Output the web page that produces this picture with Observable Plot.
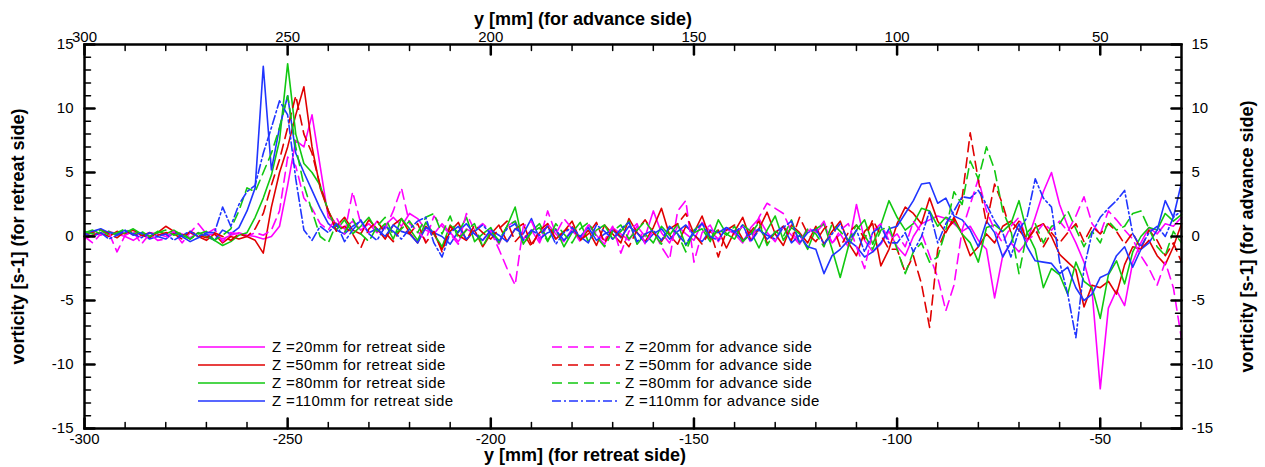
<!DOCTYPE html>
<html>
<head>
<meta charset="utf-8">
<script src="https://cdn.jsdelivr.net/npm/d3@7"></script>
<script src="https://cdn.jsdelivr.net/npm/@observablehq/plot@0.6"></script>
<style>
  html, body { margin: 0; padding: 0; background: #fff; }
  #wrap { position: relative; width: 1265px; height: 467px; }
</style>
</head>
<body>
<div id="wrap"></div>
<script>
// y position [mm] on the retreat side (advance-side position = -x)
const positions = [
  -300,-298,-296,-294,-292,-290,-288,-286,-284,-282,
  -280,-278,-276,-274,-272,-270,-268,-266,-264,-262,
  -260,-258,-256,-254,-252,-250,-248,-246,-244,-242,
  -240,-238,-236,-234,-232,-230,-228,-226,-224,-222,
  -220,-218,-216,-214,-212,-210,-208,-206,-204,-202,
  -200,-198,-196,-194,-192,-190,-188,-186,-184,-182,
  -180,-178,-176,-174,-172,-170,-168,-166,-164,-162,
  -160,-158,-156,-154,-152,-150,-148,-146,-144,-142,
  -140,-138,-136,-134,-132,-130,-128,-126,-124,-122,
  -120,-118,-116,-114,-112,-110,-108,-106,-104,-102,
  -100,-98,-96,-94,-92,-90,-88,-86,-84,-82,
  -80,-78,-76,-74,-72,-70,-68,-66,-64,-62,
  -60,-58,-56,-54,-52,-50,-48,-46,-44,-42,
  -40,-38,-36,-34,-32,-30
];
const z20Retreat = [0.2,0.3,0.1,0.4,0.2,0.0,-0.3,0.1,0.3,0.2,0.0,0.4,0.2,-0.1,0.3,0.1,0.2,-0.2,0.1,0.3,0.1,0.0,-0.2,0.0,0.8,4.0,7.5,7.0,9.5,5.5,1.5,1.0,0.6,1.2,0.5,1.0,0.3,0.9,1.5,0.8,1.8,1.4,0.5,0.2,1.0,0.3,-0.4,0.6,0.2,-0.3,0.4,-0.6,0.8,1.2,-0.2,0.5,-0.5,1.0,0.2,-0.4,0.6,-0.2,0.9,0.1,-0.6,0.7,0.2,-0.3,0.8,0.0,2.0,0.3,-0.5,0.8,0.2,-0.3,1.1,0.4,-0.2,0.6,0.2,-0.5,0.7,1.4,0.3,-0.4,0.8,0.1,-0.6,0.5,0.3,1.0,-0.5,0.2,-0.8,2.5,-0.3,-1.2,-0.6,0.4,-0.8,-1.5,0.0,1.0,1.3,1.6,1.4,1.0,0.4,0.8,-0.3,-1.0,-4.8,-1.5,-0.5,-1.2,-0.4,1.5,3.5,5.0,2.5,0.8,-0.5,-2.0,-4.3,-11.9,-5.6,-4.2,-5.4,-2.0,-0.5,0.7,0.2,1.0,0.8,1.5];
const z50Retreat = [-0.2,0.1,0.3,0.0,0.4,0.2,0.5,0.1,-0.1,0.3,0.8,0.4,0.1,0.3,0.0,-0.3,0.2,-0.5,0.0,-0.2,0.0,-0.3,-1.3,2.3,5.0,7.0,9.5,11.7,7.0,3.8,2.0,0.8,1.5,0.5,0.2,1.3,0.6,-0.2,0.9,1.4,0.3,-0.5,0.8,0.2,-1.0,0.4,1.1,-0.3,0.5,-0.8,0.2,0.9,-0.4,0.6,1.0,-0.6,0.3,0.8,-0.2,0.4,1.2,-0.3,0.5,-0.7,0.9,0.2,-0.5,1.4,0.3,-0.4,0.7,2.2,0.1,-0.6,0.8,0.3,1.6,-0.2,0.5,-0.9,0.4,1.5,-0.3,0.6,1.9,0.2,-0.7,0.9,0.3,-0.5,0.8,-0.6,0.4,1.2,-0.5,-1.5,0.4,1.0,-2.3,-1.0,1.0,2.3,1.8,1.0,3.0,1.2,0.3,1.5,0.2,-1.5,-0.8,0.2,-0.5,0.8,1.2,0.5,-0.3,0.7,1.0,0.0,-1.4,-2.0,-2.6,-5.5,-3.8,-4.0,-3.5,-4.5,-2.2,-0.8,-1.0,-0.3,-1.5,-2.2,-0.8,1.0];
const z80Retreat = [0.3,0.5,0.2,0.4,0.1,0.3,0.6,0.2,0.0,0.4,0.2,0.5,0.1,-0.2,0.3,0.0,-0.3,-0.7,-0.4,0.1,0.3,1.5,3.0,4.8,7.5,13.5,8.0,5.7,5.0,4.0,2.0,0.5,1.3,0.2,0.8,1.5,0.4,1.0,-0.2,1.4,0.6,-0.3,1.1,0.2,-0.8,0.9,0.3,1.5,-0.4,0.2,0.7,-0.5,0.8,2.3,-0.6,0.4,1.0,-0.3,0.6,-0.8,0.3,1.1,-0.4,0.5,0.9,-0.2,0.4,1.2,-0.6,0.2,-0.5,0.8,0.1,1.0,-0.7,0.3,0.6,-0.4,1.3,0.2,-0.2,0.9,0.4,-0.9,0.5,1.6,-0.3,0.7,0.2,-1.0,0.6,1.0,-1.0,-3.2,-0.8,0.5,1.3,-0.6,0.9,2.8,1.5,0.5,1.0,2.2,2.0,0.8,1.5,1.2,0.2,-0.5,-2.0,0.7,0.9,0.4,1.0,2.8,0.3,-1.0,-4.0,-2.5,-3.0,-4.5,-2.0,-3.5,-4.0,-6.4,-3.0,-1.9,-3.7,-1.2,0.0,0.7,0.5,1.8,1.2,1.7];
const z110Retreat = [0.2,0.4,0.6,0.3,0.2,0.5,0.1,0.3,-0.2,0.0,-0.2,0.3,0.0,-0.4,-0.1,0.2,-0.3,0.5,0.2,0.7,2.0,3.8,13.3,5.2,8.5,11.0,6.5,5.0,3.6,2.2,1.0,0.5,0.2,0.8,1.2,0.3,0.6,0.0,0.9,0.4,0.2,-0.5,0.7,0.3,0.0,-0.6,0.4,1.0,0.2,-0.3,0.5,0.1,-0.4,0.6,0.2,1.4,-0.2,0.3,0.5,-0.3,0.4,0.0,0.7,-0.3,0.2,0.5,-0.1,0.8,0.3,-0.5,0.2,0.6,-0.2,0.4,0.9,0.1,-0.4,0.5,0.3,0.7,0.4,-0.3,0.2,0.6,-0.2,0.3,0.8,-0.5,0.1,-0.8,-1.0,-2.9,-1.5,-1.0,-0.3,-0.8,-1.6,-1.2,-0.5,0.6,0.8,1.8,2.8,4.1,4.2,2.6,3.0,1.6,1.3,0.5,-0.8,1.2,0.3,-1.6,-0.5,1.0,-0.8,-1.9,-2.0,-2.1,-2.9,-2.4,-4.0,-5.0,-4.5,-3.2,-2.9,-1.5,-0.8,-2.4,-1.0,-0.5,0.5,2.8,1.5,4.2];
const z20Advance = [0.0,-0.5,0.2,0.3,-1.2,0.1,0.4,-0.6,0.2,-0.3,-0.2,0.4,-0.5,0.3,1.0,0.2,0.6,-0.4,0.3,0.2,0.0,0.3,0.1,0.5,2.0,6.2,5.5,3.0,2.2,1.0,0.5,1.5,0.2,3.5,1.0,0.3,1.2,0.6,2.0,3.8,1.0,0.4,-0.3,1.6,0.8,0.2,-0.6,1.8,0.5,1.0,0.4,-1.0,-2.5,-3.8,0.8,1.2,-0.3,2.0,0.2,1.4,0.6,-0.4,1.0,0.2,-0.3,0.8,-1.3,0.4,1.0,-0.6,0.5,-0.8,-1.8,2.0,2.8,-2.0,0.3,0.9,-0.4,0.6,0.2,0.8,-0.5,1.5,2.6,2.2,1.8,0.4,-0.5,0.7,0.3,1.2,-0.6,0.5,1.0,-0.8,-2.5,0.4,1.0,-0.3,0.2,-0.8,1.2,0.3,-1.5,-3.2,-5.8,-3.8,0.5,2.5,4.5,2.0,0.5,-0.5,0.8,1.5,-0.3,0.2,1.0,0.5,1.2,0.4,1.6,3.1,1.0,0.2,2.0,1.3,0.5,-0.2,-1.5,-2.5,-3.8,-2.0,-4.0,-8.0];
const z50Advance = [0.1,0.3,0.5,0.2,-0.1,0.4,0.2,0.0,0.3,0.1,0.3,0.2,-0.2,0.4,0.1,-0.1,0.3,0.0,-0.3,0.2,0.0,0.6,1.8,4.0,6.0,8.5,11.0,8.0,6.5,4.0,2.0,0.4,0.8,0.2,-0.9,0.6,1.2,0.3,-0.4,0.7,0.2,1.0,-0.5,0.4,-1.2,0.8,0.1,-0.3,0.9,0.3,-0.2,0.6,1.2,-0.4,0.3,-0.8,0.5,1.0,-0.2,0.4,0.8,-0.3,0.2,1.1,-0.5,0.6,0.0,-0.8,0.5,1.3,0.3,-0.4,0.6,1.0,1.8,0.2,-0.6,0.4,-1.6,0.5,0.9,-0.2,0.4,1.2,-0.5,0.3,0.8,-0.3,1.5,0.2,-0.4,0.6,1.1,-0.8,0.3,0.9,-0.2,1.3,0.1,-1.0,-1.0,-2.8,-1.5,-3.7,-7.1,-1.0,0.5,1.2,3.0,8.1,4.4,1.0,4.1,2.5,0.3,1.2,-0.3,0.6,-0.8,0.3,-0.5,0.3,1.0,-0.4,0.8,0.2,1.0,0.4,-0.6,0.3,-1.0,0.5,-0.3,-1.5,-0.5,-2.0];
const z80Advance = [0.4,0.2,0.5,0.1,0.3,0.6,0.2,0.4,0.0,0.3,0.5,0.1,0.3,-0.2,0.2,0.4,-0.3,0.1,0.6,2.0,3.8,3.5,5.0,6.5,8.5,11.0,7.0,4.0,2.0,0.0,-0.5,1.0,0.3,1.4,0.2,-0.4,0.8,1.5,0.1,0.6,1.2,0.3,1.5,1.8,0.2,1.6,-0.2,0.5,1.0,-0.8,0.4,-0.3,0.8,1.2,-0.6,0.3,0.7,-0.4,1.0,0.2,-0.5,0.6,1.1,0.0,-0.8,0.4,0.9,-0.2,0.5,1.2,0.3,-0.6,0.7,0.2,-1.2,0.5,1.0,-0.3,0.6,0.1,0.8,-0.4,0.2,1.1,-0.7,0.4,0.0,1.3,-0.5,0.6,0.2,-0.8,1.0,0.4,-0.3,0.9,0.1,-1.0,0.5,0.8,-1.0,-2.9,-1.2,-0.5,-2.0,-1.6,0.5,3.5,2.5,5.9,4.5,7.0,5.2,2.0,0.5,-2.9,0.3,1.0,-0.5,0.8,1.0,2.0,0.6,-0.8,0.4,-0.5,1.2,0.5,0.8,1.8,2.0,0.6,-0.8,-1.5,0.4,-0.5];
const z110Advance = [0.2,0.0,0.3,-0.2,0.1,0.4,0.2,-0.1,0.3,0.0,0.2,-0.3,0.1,0.4,0.0,0.3,0.3,2.3,0.8,2.5,3.5,4.0,6.5,8.5,10.6,9.5,4.5,0.5,-0.3,0.8,0.3,1.0,-0.4,0.5,1.3,0.2,-0.3,0.8,0.4,-0.2,0.6,1.2,1.5,-0.5,-1.6,0.3,0.8,-0.2,0.4,0.9,0.2,-0.4,0.6,1.0,-0.3,0.5,0.1,0.8,-0.6,0.3,0.7,0.0,-0.5,0.9,0.4,-0.2,0.6,1.1,-0.4,0.2,0.5,-0.3,0.8,0.2,-0.6,0.4,1.0,0.0,-0.3,0.7,0.3,0.9,-0.4,0.5,0.1,-0.2,0.7,1.2,-0.5,0.3,0.6,-0.6,0.2,1.0,-0.4,0.5,-1.2,0.3,0.8,-0.5,-0.5,0.3,-1.2,0.0,2.0,-0.5,1.0,2.0,3.1,3.0,3.6,2.5,1.2,0.3,-1.6,0.5,1.5,4.5,3.0,2.3,-2.0,-4.5,-7.9,-2.5,0.3,1.5,2.2,2.8,3.6,0.2,-0.8,0.3,0.8,0.0,1.5,2.0];

const seriesNames = [
  "Z =20mm for retreat side", "Z =50mm for retreat side",
  "Z =80mm for retreat side", "Z =110mm for retreat side",
  "Z =20mm for advance side", "Z =50mm for advance side",
  "Z =80mm for advance side", "Z =110mm for advance side"
];
const seriesValues = [z20Retreat, z50Retreat, z80Retreat, z110Retreat, z20Advance, z50Advance, z80Advance, z110Advance];
const seriesColors = ["#ff00ff", "#e00000", "#11c811", "#2035ff", "#ff00ff", "#e00000", "#11c811", "#2035ff"];
const seriesDash = [null, null, null, null, "10,6", "10,6", "10,6", "9,3,2,3"];

const xMajor = [-300, -250, -200, -150, -100, -50];
const xMinor = [-290,-280,-270,-260,-240,-230,-220,-210,-190,-180,-170,-160,-140,-130,-120,-110,-90,-80,-70,-60,-40];
const yMajor = [-15, -10, -5, 0, 5, 10, 15];
const yMinor = [-14,-13,-12,-11,-9,-8,-7,-6,-4,-3,-2,-1,1,2,3,4,6,7,8,9,11,12,13,14];

const titleTop = "y [mm] (for advance side)";
const titleBottom = "y [mm] (for retreat side)";
const titleLeft = "vorticity [s-1] (for retreat side)";
const titleRight = "vorticity [s-1] (for advance side)";

// layout constants (pixels)
const W = 1265, H = 467, mL = 84, mR = 84, mT = 44, mB = 39;
const majorLen = 10, minorLen = 6;

const rows = seriesValues.map((vals, s) => vals.map((v, i) => ({x: positions[i], v, s})));
const hy = d => String(d);

const lineMarks = rows.map((data, s) => Plot.line(data, {
  x: "x", y: "v", stroke: seriesColors[s], strokeWidth: 1.6,
  strokeDasharray: seriesDash[s] ?? undefined, strokeLinejoin: "round"
}));

// inward ticks as Plot vectors, starting at the frame edge and pointing inward
const tickShape = {draw(context, l) { context.moveTo(0, 0); context.lineTo(0, -l); }};
function tickVectors(vals, axis, len, sw) {
  const common = {length: len, anchor: "start", shape: tickShape, stroke: "black", strokeWidth: sw};
  if (axis === "x") return [
    Plot.vector(vals, {...common, x: d => d, y: () => -15, rotate: 0}),
    Plot.vector(vals, {...common, x: d => d, y: () => 15, rotate: 180})
  ];
  return [
    Plot.vector(vals, {...common, y: d => d, x: () => -300, rotate: 90}),
    Plot.vector(vals, {...common, y: d => d, x: () => -30, rotate: 270})
  ];
}

const chart = Plot.plot({
  width: W, height: H,
  marginLeft: mL, marginRight: mR, marginTop: mT, marginBottom: mB,
  x: {domain: [-300, -30]},
  y: {domain: [-15, 15]},
  style: {fontFamily: "'Liberation Sans', Arial, sans-serif", fontSize: "15px", color: "black", background: "white", overflow: "visible"},
  marks: [
    ...lineMarks,
    ...tickVectors(xMajor, "x", majorLen, 2.5),
    ...tickVectors(xMinor, "x", minorLen, 1.5),
    ...tickVectors(yMajor, "y", majorLen, 2.5),
    ...tickVectors(yMinor, "y", minorLen, 1.5),
    Plot.frame({stroke: "black", strokeWidth: 2.5}),
    Plot.axisX(xMajor, {anchor: "bottom", tickSize: 0, tickPadding: 5, tickFormat: hy, label: null}),
    Plot.axisX(xMajor, {anchor: "top", tickSize: 0, tickPadding: 3, tickFormat: d => String(-d), label: null}),
    Plot.axisY(yMajor, {anchor: "left", tickSize: 0, tickPadding: 11, tickFormat: hy, label: null}),
    Plot.axisY(yMajor, {anchor: "right", tickSize: 0, tickPadding: 10, tickFormat: hy, label: null}),
    Plot.text([titleTop], {text: d => d, frameAnchor: "top", textAnchor: "middle", dx: -50, dy: -25, lineAnchor: "middle", fontWeight: "bold", fontSize: 18}),
    Plot.text([titleBottom], {text: d => d, frameAnchor: "bottom", textAnchor: "middle", dx: -48, dy: 27, lineAnchor: "middle", fontWeight: "bold", fontSize: 18}),
    Plot.text([titleLeft], {text: d => d, frameAnchor: "left", textAnchor: "middle", dx: -66, rotate: -90, lineAnchor: "middle", fontWeight: "bold", fontSize: 18}),
    Plot.text([titleRight], {text: d => d, frameAnchor: "right", textAnchor: "middle", dx: 66, rotate: -90, lineAnchor: "middle", fontWeight: "bold", fontSize: 18})
  ]
});

const wrap = document.getElementById("wrap");
wrap.appendChild(chart);

// in-plot legend overlay
const ov = d3.select(wrap).append("svg")
  .attr("width", W).attr("height", H)
  .style("position", "absolute").style("left", "0px").style("top", "0px")
  .style("pointer-events", "none")
  .style("font-family", "'Liberation Sans', Arial, sans-serif");

seriesNames.forEach((name, i) => {
  const col = i < 4 ? 0 : 1, row = i % 4;
  const lx0 = col ? 552 : 198, lx1 = col ? 620 : 265, tx = col ? 625 : 272;
  const ly = 347 + row * 18;
  ov.append("line").attr("x1", lx0).attr("x2", lx1).attr("y1", ly).attr("y2", ly)
    .attr("stroke", seriesColors[i]).attr("stroke-width", 1.6)
    .attr("stroke-dasharray", seriesDash[i]);
  ov.append("text").attr("x", tx).attr("y", ly).attr("dy", "0.35em")
    .attr("font-size", 15).attr("letter-spacing", "0.38px").attr("fill", "black").text(name);
});
</script>
</body>
</html>
